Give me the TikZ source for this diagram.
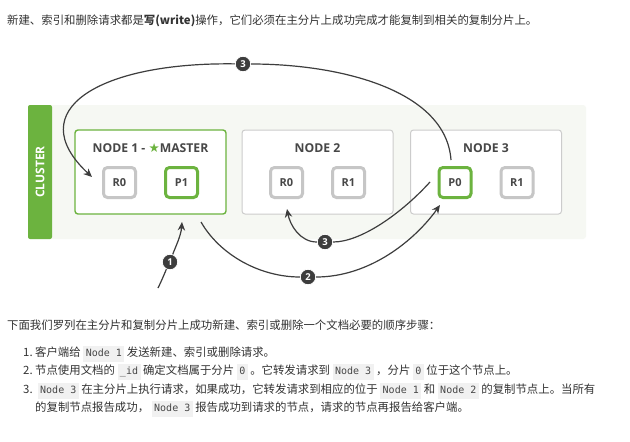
\documentclass[tikz,border=0pt]{standalone}
\usepackage{fontspec}
\setmainfont{Open Sans}
\newfontfamily\cjk{Noto Sans CJK SC}
\newfontfamily\codefont{DejaVu Sans Mono}
\newfontfamily\symfont{DejaVu Sans}
\usetikzlibrary{arrows.meta}
\definecolor{esgreen}{HTML}{6CB33F}
\definecolor{clusterbg}{HTML}{F6F8F3}
\definecolor{boxgray}{HTML}{CCCCCC}
\definecolor{shardgray}{HTML}{C6C6C6}
\definecolor{labelgray}{HTML}{474747}
\definecolor{arrowgray}{HTML}{3D3D3D}
\definecolor{textgray}{HTML}{333333}
\definecolor{codebg}{HTML}{F1F1F1}

\newcommand{\inl}[1]{\hspace{2.5pt}{\setlength{\fboxsep}{2.5pt}\colorbox{codebg}{\codefont\fontsize{10}{11}\selectfont\color{labelgray}\strut #1}}\hspace{2.5pt}}

\tikzset{
  nodebox/.style={draw=boxgray, line width=1pt, rounded corners=3pt, fill=white, minimum width=151pt, minimum height=84pt, inner sep=0},
  masterbox/.style={nodebox, draw=esgreen, line width=1.4pt},
  shard/.style={draw=shardgray, line width=3pt, rounded corners=4pt, fill=white, minimum width=32pt, minimum height=30pt, inner sep=0, text=labelgray, font=\bfseries\fontsize{11}{12}\selectfont},
  primary/.style={shard, draw=esgreen},
  nodelabel/.style={inner sep=0, text=labelgray, font=\bfseries\fontsize{12.2}{13}\selectfont},
  badge/.style={circle, fill=arrowgray, draw=white, line width=0.8pt, minimum size=15.5pt, inner sep=0, text=white, font=\bfseries\fontsize{9.5}{10}\selectfont},
  flow/.style={draw=arrowgray, line width=1.2pt},
  flowtip/.style={flow, -{Stealth[length=8.5pt,width=7.5pt]}},
  bodytext/.style={anchor=base west, inner sep=0, text=textgray, font=\cjk\fontsize{11.4}{13}\selectfont}
}

\begin{document}
\begin{tikzpicture}[x=1pt, y=-1pt]

    \fill[white] (0,0) rectangle (630,442);
    \useasboundingbox (0,0) rectangle (630,442);

    \node[bodytext] (intro) at (7,24) {新建、索引和删除请求都是{\bfseries 写(write)}操作，它们必须在主分片上成功完成才能复制到相关的复制分片上。};

    % cluster
    \fill[clusterbg, rounded corners=3pt] (28,105) rectangle (586,239);
    \fill[esgreen, rounded corners=2pt] (28,105) rectangle (52,239);
    \node[rotate=90, text=white, inner sep=0, font=\bfseries\fontsize{12}{13}\selectfont] (clusterlabel) at (40,172) {CLUSTER};

    \node[masterbox] (n1) at (150.5,172) {};
    \node[nodebox] (n2) at (317.5,172) {};
    \node[nodebox] (n3) at (486,172) {};

    \node[nodelabel] (n1label) at (150.5,148) {NODE 1 - {\symfont\mdseries\fontsize{12.5}{13}\selectfont\color{esgreen}★}MASTER};
    \node[nodelabel] (n2label) at (317.5,148) {NODE 2};
    \node[nodelabel] (n3label) at (486,148) {NODE 3};

    \node[shard] (n1r0) at (119.5,182.5) {R0};
    \node[primary] (n1p1) at (181.5,182.5) {P1};
    \node[shard] (n2r0) at (286.5,182.5) {R0};
    \node[shard] (n2r1) at (348.5,182.5) {R1};
    \node[primary] (n3p0) at (455,182.5) {P0};
    \node[shard] (n3r1) at (517,182.5) {R1};

    % steps
    \node[badge] (b1) at (170,262) {1};
    \node[badge] (b2) at (308,277) {2};
    \node[badge] (b3a) at (243,64) {3};
    \node[badge] (b3b) at (325,242) {3};

    \coordinate (s1) at (158,288);
    \coordinate (e1) at (182,222);
    \coordinate (s2) at (201,222);
    \coordinate (e2) at (440,205);
    \coordinate (s3) at (451,160);
    \coordinate (e3) at (92,177);
    \coordinate (s4) at (430,182);
    \coordinate (e4) at (287,209);

    \draw[flow] (s1) .. controls +(4,-8) and +(-4,8) .. (b1);
    \draw[flowtip] (b1) .. controls +(5,-14) and +(-1,14) .. (e1);

    \draw[flow] (s2) .. controls +(19,33) and +(-48,0) .. (b2);
    \draw[flowtip] (b2) .. controls +(62,0) and +(-25,35) .. (e2);

    \draw[flow] (s3) .. controls +(-5,-70) and +(97,0) .. (b3a);
    \draw[flowtip] (b3a) .. controls +(-143,-2) and +(-72,-67) .. (e3);

    \draw[flow] (s4) .. controls +(-30,33) and +(35,0) .. (b3b);
    \draw[flowtip] (b3b) .. controls +(-25,0) and +(3,16) .. (e4);

    % list
    \node[bodytext] (lead) at (7,329) {下面我们罗列在主分片和复制分片上成功新建、索引或删除一个文档必要的顺序步骤：};
    \node[bodytext] (item1) at (23,356) {\makebox[12pt][l]{1.}客户端给\inl{Node 1}发送新建、索引或删除请求。};
    \node[bodytext] (item2) at (23,374.5) {\makebox[12pt][l]{2.}节点使用文档的\inl{\_id}确定文档属于分片\inl{0}。它转发请求到\inl{Node 3}，分片\inl{0}位于这个节点上。};
    \node[bodytext] (item3) at (23,393) {\makebox[12pt][l]{3.}\inl{Node 3}在主分片上执行请求，如果成功，它转发请求到相应的位于\inl{Node 1}和\inl{Node 2}的复制节点上。当所有};
    \node[bodytext] (item3b) at (35,411) {的复制节点报告成功，\inl{Node 3}报告成功到请求的节点，请求的节点再报告给客户端。};

\end{tikzpicture}
\end{document}
